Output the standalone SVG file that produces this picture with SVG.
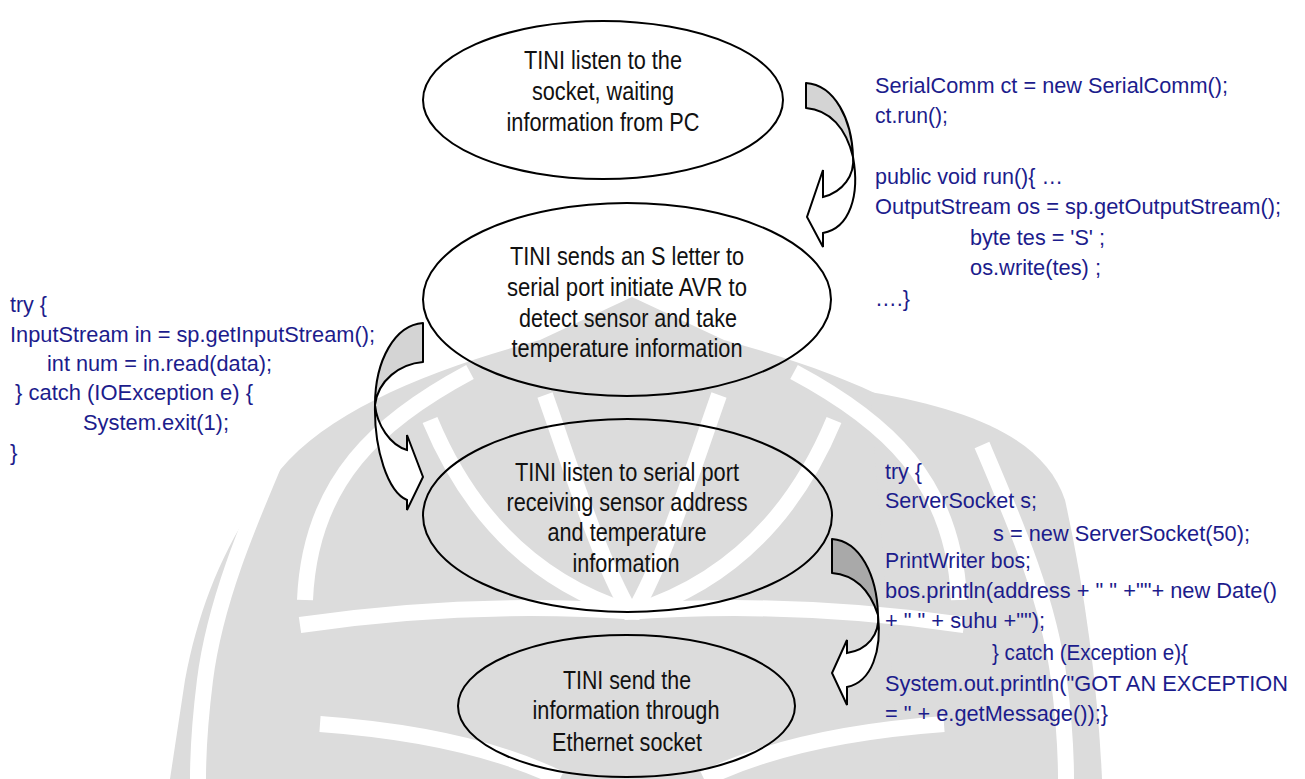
<svg xmlns="http://www.w3.org/2000/svg" width="1305" height="779" viewBox="0 0 1305 779">
<style>
.n{font-family:"Liberation Sans",Arial,sans-serif;font-size:25px;fill:#111;text-anchor:middle}
.c{font-family:"Liberation Sans",Arial,sans-serif;font-size:22.5px;fill:#1c1c8c}
.e{fill:none;stroke:#000;stroke-width:2}
.band{fill:#d4d4d4;stroke:#000;stroke-width:2;stroke-linejoin:round}
.band2{fill:#a9a9a9;stroke:#000;stroke-width:2;stroke-linejoin:round}
.head{fill:#fff;stroke:#000;stroke-width:2;stroke-linejoin:miter}
.wm{fill:none;stroke:#fff;stroke-width:16}
.wb{fill:#dcdcdc}
</style>
<defs>
<path id="wmbase" class="wb" d="M632,297 L540,340 C430,370 330,410 280,470 C230,530 200,600 185,680 L170,779 L632,779 Z"/>
<g id="wmlines">
<path class="wm" d="M630,612 C600,560 575,480 545,395"/>
<path class="wm" d="M630,612 C560,590 480,540 430,420"/>
<path class="wm" stroke-width="20" d="M640,612 Q470,600 300,625"/>
<path class="wm" d="M470,372 C380,420 310,480 305,600"/>
<path class="wm" d="M320,724 Q470,735 560,779"/>
<path class="wm" stroke-width="14" d="M282,445 C250,520 215,600 205,680 C200,720 198,750 198,779"/>
</g>
</defs>
<rect width="1305" height="779" fill="#fff"/>
<g id="watermark">
<use href="#wmbase"/>
<use href="#wmbase" transform="translate(1264,0) scale(-1,1)"/>
<path class="wb" d="M870,392 C975,410 1045,440 1065,500 C1085,590 1098,690 1102,779 L900,779 Z"/>
<use href="#wmlines"/>
<use href="#wmlines" transform="translate(1264,0) scale(-1,1)"/>
</g>
<g id="connectors">
<g id="arrow1">
<path class="band" d="M806,83 C835,85 852,120 853,157 C846,128 830,110 806,108 Z"/>
<path class="head" d="M853,157 C855,175 843,192 823,197 L823,170 L807,217 L823,247 L823,233 C850,228 860,195 853,157 Z"/>
</g>
<g id="arrow2">
<path class="band" d="M423,323 L423,362 C400,364 378,380 375,405 C375,360 395,325 423,323 Z"/>
<path class="head" d="M375,405 C377,425 390,445 407,450 L407,435 L423,477 L407,510 L407,500 C388,492 374,450 375,405 Z"/>
</g>
<g id="arrow3">
<path class="band2" d="M832,539 L832,573 C855,575 870,590 878,615 C877,575 860,541 832,539 Z"/>
<path class="head" d="M878,615 C880,635 867,650 847,653 L847,640 L832,673 L847,705 L847,687 C872,682 882,650 878,615 Z"/>
</g>
</g>
<g id="node1">
<ellipse class="e" cx="603" cy="100" rx="180" ry="79"/>
<text class="n" x="603" y="69" textLength="158" lengthAdjust="spacingAndGlyphs">TINI listen to the</text>
<text class="n" x="603" y="100" textLength="142" lengthAdjust="spacingAndGlyphs">socket, waiting</text>
<text class="n" x="603" y="131" textLength="193" lengthAdjust="spacingAndGlyphs">information from PC</text>
</g>
<g id="node2">
<ellipse class="e" cx="627" cy="299.5" rx="204" ry="96.5"/>
<text class="n" x="627" y="265" textLength="234" lengthAdjust="spacingAndGlyphs">TINI sends an S letter to</text>
<text class="n" x="627" y="296" textLength="240" lengthAdjust="spacingAndGlyphs">serial port initiate AVR to</text>
<text class="n" x="628" y="327" textLength="218" lengthAdjust="spacingAndGlyphs">detect sensor and take</text>
<text class="n" x="627" y="357" textLength="231" lengthAdjust="spacingAndGlyphs">temperature information</text>
</g>
<g id="node3">
<ellipse class="e" cx="627.5" cy="515.5" rx="204.5" ry="96.5"/>
<text class="n" x="627" y="481" textLength="224" lengthAdjust="spacingAndGlyphs">TINI listen to serial port</text>
<text class="n" x="627" y="511" textLength="241" lengthAdjust="spacingAndGlyphs">receiving sensor address</text>
<text class="n" x="627" y="541" textLength="159" lengthAdjust="spacingAndGlyphs">and temperature</text>
<text class="n" x="626" y="572" textLength="107" lengthAdjust="spacingAndGlyphs">information</text>
</g>
<g id="node4">
<ellipse class="e" cx="626.5" cy="706" rx="168.5" ry="71"/>
<text class="n" x="627" y="689" textLength="128" lengthAdjust="spacingAndGlyphs">TINI send the</text>
<text class="n" x="626" y="719" textLength="187" lengthAdjust="spacingAndGlyphs">information through</text>
<text class="n" x="627" y="751" textLength="150" lengthAdjust="spacingAndGlyphs">Ethernet socket</text>
</g>
<g id="code1">
<text class="c" x="875" y="93" textLength="353" lengthAdjust="spacingAndGlyphs">SerialComm ct = new SerialComm();</text>
<text class="c" x="875" y="123" textLength="73" lengthAdjust="spacingAndGlyphs">ct.run();</text>
<text class="c" x="875" y="184" textLength="188" lengthAdjust="spacingAndGlyphs">public void run(){ …</text>
<text class="c" x="875" y="214" textLength="406" lengthAdjust="spacingAndGlyphs">OutputStream os = sp.getOutputStream();</text>
<text class="c" x="970" y="245" textLength="135" lengthAdjust="spacingAndGlyphs">byte tes = 'S' ;</text>
<text class="c" x="970" y="275" textLength="131" lengthAdjust="spacingAndGlyphs">os.write(tes) ;</text>
<text class="c" x="875" y="306" textLength="35" lengthAdjust="spacingAndGlyphs">….}</text>
</g>
<g id="code2">
<text class="c" x="10" y="312" textLength="37" lengthAdjust="spacingAndGlyphs">try {</text>
<text class="c" x="10" y="342" textLength="365" lengthAdjust="spacingAndGlyphs">InputStream in = sp.getInputStream();</text>
<text class="c" x="47" y="371" textLength="225" lengthAdjust="spacingAndGlyphs">int num = in.read(data);</text>
<text class="c" x="15" y="400" textLength="238" lengthAdjust="spacingAndGlyphs">} catch (IOException e) {</text>
<text class="c" x="83" y="430" textLength="146" lengthAdjust="spacingAndGlyphs">System.exit(1);</text>
<text class="c" x="10" y="460">}</text>
</g>
<g id="code3">
<text class="c" x="885" y="479" textLength="37" lengthAdjust="spacingAndGlyphs">try {</text>
<text class="c" x="885" y="508" textLength="152" lengthAdjust="spacingAndGlyphs">ServerSocket s;</text>
<text class="c" x="993" y="541" textLength="257" lengthAdjust="spacingAndGlyphs">s = new ServerSocket(50);</text>
<text class="c" x="885" y="568" textLength="146" lengthAdjust="spacingAndGlyphs">PrintWriter bos;</text>
<text class="c" x="885" y="598" textLength="392" lengthAdjust="spacingAndGlyphs">bos.println(address + " " +""+ new Date()</text>
<text class="c" x="885" y="628" textLength="160" lengthAdjust="spacingAndGlyphs">+ " " + suhu +"");</text>
<text class="c" x="992" y="660" textLength="196" lengthAdjust="spacingAndGlyphs">} catch (Exception e){</text>
<text class="c" x="885" y="691" textLength="403" lengthAdjust="spacingAndGlyphs">System.out.println("GOT AN EXCEPTION</text>
<text class="c" x="885" y="721" textLength="223" lengthAdjust="spacingAndGlyphs">= " + e.getMessage());}</text>
</g>
</svg>
